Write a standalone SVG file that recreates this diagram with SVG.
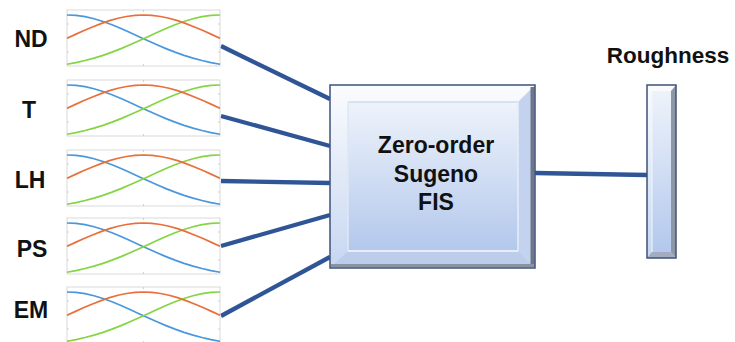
<svg xmlns="http://www.w3.org/2000/svg" xmlns:xlink="http://www.w3.org/1999/xlink" width="735" height="342" viewBox="0 0 735 342">
<style>
.lbl{font-family:"Liberation Sans",Arial,sans-serif;font-weight:bold;font-size:23px;fill:#111;text-anchor:middle}
.fis{font-family:"Liberation Sans",Arial,sans-serif;font-weight:bold;font-size:23px;fill:#111;text-anchor:middle}
.conn{stroke:#2f5597;stroke-width:4.3;stroke-linecap:butt;fill:none}
.frame{fill:#fff;stroke:#d9d9d9;stroke-width:1}
.tick{stroke:#d0d0d0;stroke-width:1}
.mb{fill:none;stroke:#4a98dc;stroke-width:1.7}
.mr{fill:none;stroke:#e8703a;stroke-width:1.7}
.mg{fill:none;stroke:#84d444;stroke-width:1.7}
</style>
<defs>
<linearGradient id="face" x1="0" y1="0" x2="0" y2="1">
<stop offset="0" stop-color="#eef3fb"/>
<stop offset="1" stop-color="#b3c8ec"/>
</linearGradient>
<linearGradient id="bevel" x1="0" y1="0" x2="0" y2="1">
<stop offset="0" stop-color="#fbfcfe"/>
<stop offset="1" stop-color="#c6d6f1"/>
</linearGradient>
<g id="mf">
<rect class="frame" x="0" y="0" width="153" height="56"/>
<line class="tick" x1="76.5" y1="0" x2="76.5" y2="2"/>
<line class="tick" x1="76.5" y1="54" x2="76.5" y2="56"/>
<line class="tick" x1="0" y1="14" x2="2" y2="14"/>
<line class="tick" x1="0" y1="28" x2="2" y2="28"/>
<line class="tick" x1="0" y1="42" x2="2" y2="42"/>
<line class="tick" x1="151" y1="14" x2="153" y2="14"/>
<line class="tick" x1="151" y1="28" x2="153" y2="28"/>
<line class="tick" x1="151" y1="42" x2="153" y2="42"/>
<polyline class="mb" points="0,5 9,5.42 18,6.68 27,8.72 36,11.47 45,14.75 54,18.48 63,22.5 72,26.65 81,30.8 90,34.83 99,38.63 108,42.15 117,45.32 126,48.12 135,50.53 144,52.58 153,54.25"/>
<polyline class="mg" points="153,5 144,5.42 135,6.68 126,8.72 117,11.47 108,14.75 99,18.48 90,22.5 81,26.65 72,30.8 63,34.83 54,38.63 45,42.15 36,45.32 27,48.12 18,50.53 9,52.58 0,54.25"/>
<polyline class="mr" points="0,28.2 8.5,24.36 17,20.57 25.5,16.93 34,13.6 42.5,10.67 51,8.27 59.5,6.48 68,5.38 76.5,5 85,5.38 93.5,6.48 102,8.27 110.5,10.67 119,13.6 127.5,16.93 136,20.57 144.5,24.36 153,28.2"/>
</g>
</defs>
<rect width="735" height="342" fill="#fff"/>

<g id="connectors">
<line class="conn" x1="221" y1="46" x2="330" y2="99"/>
<line class="conn" x1="221" y1="116" x2="330" y2="146"/>
<line class="conn" x1="221" y1="181" x2="330" y2="183"/>
<line class="conn" x1="221" y1="246" x2="330" y2="215"/>
<line class="conn" x1="221" y1="316" x2="330" y2="257"/>
<line class="conn" x1="535" y1="173" x2="647" y2="175"/>
</g>

<g id="ND">
<text class="lbl" x="31" y="47">ND</text>
<use xlink:href="#mf" x="67" y="10"/>
</g>
<g id="T">
<text class="lbl" x="29" y="118">T</text>
<use xlink:href="#mf" x="67" y="80"/>
</g>
<g id="LH">
<text class="lbl" x="30" y="188">LH</text>
<use xlink:href="#mf" x="67" y="150"/>
</g>
<g id="PS">
<text class="lbl" x="32" y="257">PS</text>
<use xlink:href="#mf" x="67" y="218"/>
</g>
<g id="EM">
<text class="lbl" x="31" y="318">EM</text>
<use xlink:href="#mf" x="67" y="287"/>
</g>

<g id="fis">
<rect x="330" y="85" width="205" height="183" fill="url(#bevel)"/>
<polygon points="535,85 535,268 518,251 518,102" fill="#c3d2ee"/>
<polygon points="330,268 535,268 518,251 348,251" fill="#bccdec"/>
<rect x="348" y="102" width="170" height="149" fill="url(#face)"/>
<line x1="348" y1="102" x2="518" y2="102" stroke="#d0dbee" stroke-width="1.5"/>
<line x1="348" y1="102" x2="348" y2="251" stroke="#dfe7f5" stroke-width="1.5"/>
<line x1="348" y1="251" x2="518" y2="251" stroke="#f4f8fe" stroke-width="1.5"/>
<line x1="518" y1="102" x2="518" y2="251" stroke="#e8eef9" stroke-width="1.5"/>
<line x1="532.5" y1="87" x2="532.5" y2="267" stroke="#6f7785" stroke-width="4"/>
<line x1="331" y1="265.5" x2="534" y2="265.5" stroke="#8a93a3" stroke-width="3"/>
<rect x="330" y="85" width="205" height="183" fill="none" stroke="#3e5278" stroke-width="1.5"/>
<text class="fis" x="436" y="153">Zero-order</text>
<text class="fis" x="436" y="182">Sugeno</text>
<text class="fis" x="436" y="210">FIS</text>
</g>

<g id="roughness">
<text class="lbl" x="668" y="63" style="font-size:22.5px">Roughness</text>
<rect x="647" y="85" width="29" height="173" fill="url(#bevel)"/>
<polygon points="676,85 676,258 671,252 671,91" fill="#8e97a6"/>
<polygon points="647,258 676,258 671,252 652,252" fill="#a3adbf"/>
<rect x="652" y="91" width="19" height="161" fill="url(#face)"/>
<line x1="652" y1="91" x2="652" y2="252" stroke="#f2f6fc" stroke-width="1"/>
<rect x="647" y="85" width="29" height="173" fill="none" stroke="#3e5278" stroke-width="1.5"/>
</g>
</svg>
